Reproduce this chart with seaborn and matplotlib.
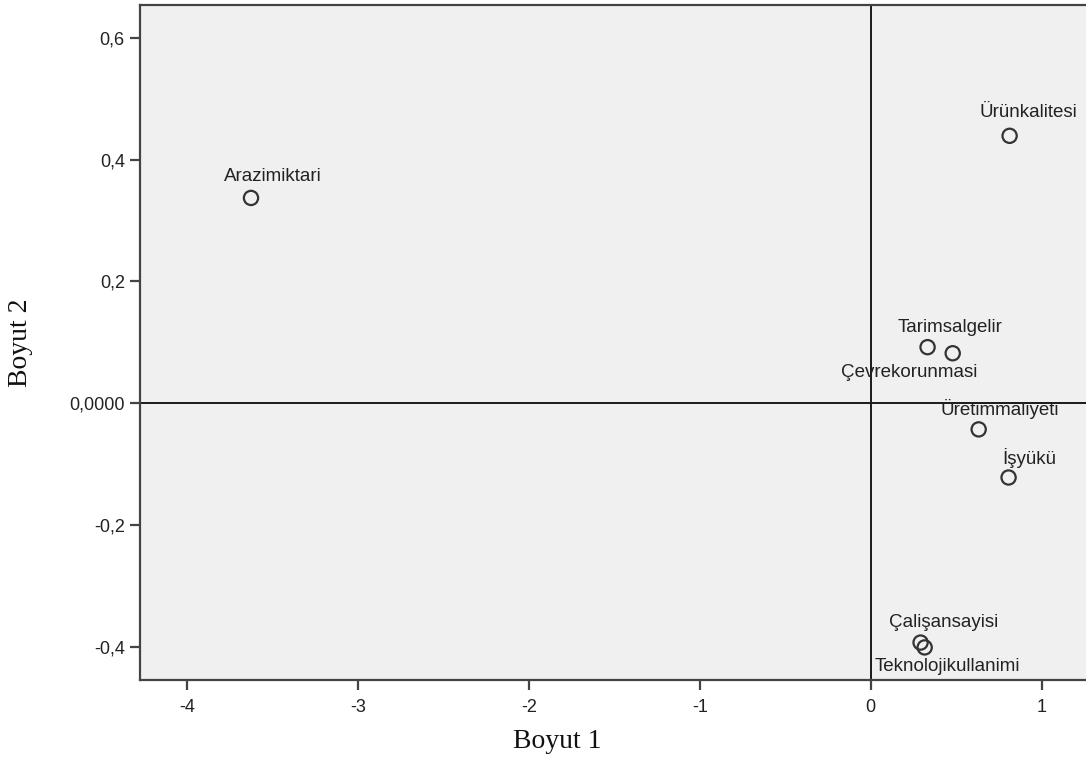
import matplotlib
matplotlib.use("Agg")
import matplotlib.pyplot as plt
import seaborn as sns
import pandas as pd

# Coordinates of each variable on the two dimensions
names = ["Arazimiktari", "Ürünkalitesi", "Tarimsalgelir", "Çevrekorunmasi",
         "Üretimmaliyeti", "İşyükü", "Çalişansayisi", "Teknolojikullanimi"]
dim1 = [-3.626, 0.813, 0.333, 0.480, 0.632, 0.807, 0.292, 0.316]
dim2 = [0.337, 0.439, 0.092, 0.082, -0.043, -0.122, -0.393, -0.401]

# Label placement relative to each point (pixels)
label_dx = [22, 19, 22, -44, 21, 21, 23, 23]
label_dy = [21, 23, 20, -19, 20, 19, 20, -19]

x_ticks = [-4, -3, -2, -1, 0, 1]
x_tick_labels = ["-4", "-3", "-2", "-1", "0", "1"]
y_ticks = [0.6, 0.4, 0.2, 0.0, -0.2, -0.4]
y_tick_labels = ["0,6", "0,4", "0,2", "0,0000", "-0,2", "-0,4"]

df = pd.DataFrame({"Boyut 1": dim1, "Boyut 2": dim2, "name": names})

sns.set_style("white")
plt.rcParams["font.family"] = ["Liberation Sans", "DejaVu Sans"]

fig = plt.figure(figsize=(10.86, 7.62), dpi=100)
ax = fig.add_axes([0.129, 0.108, 0.871, 0.8856])
ax.set_facecolor("#f0f0f0")

ax.axhline(0, color="#1a1a1a", lw=1.4, zorder=1)
ax.axvline(0, color="#1a1a1a", lw=1.4, zorder=1)

sns.scatterplot(data=df, x="Boyut 1", y="Boyut 2", ax=ax, s=105,
                facecolor="none", edgecolor="#333333", linewidth=1.6,
                marker="o", zorder=3)

for n, x, y, dx, dy in zip(names, dim1, dim2, label_dx, label_dy):
    ax.annotate(n, (x, y), xytext=(dx, dy), textcoords="offset pixels",
                ha="center", va="center", fontsize=13.5, color="#222222",
                zorder=4)

ax.set_xlim(-4.275, 1.26)
ax.set_ylim(-0.454, 0.654)
ax.set_xticks(x_ticks)
ax.set_xticklabels(x_tick_labels)
ax.set_yticks(y_ticks)
ax.set_yticklabels(y_tick_labels)

for side in ["left", "bottom", "top"]:
    ax.spines[side].set_color("#444444")
    ax.spines[side].set_linewidth(1.6)
ax.spines["right"].set_visible(False)

ax.tick_params(axis="both", direction="out", length=7, width=1.6,
               color="#444444", labelsize=13, labelcolor="#222222",
               left=True, bottom=True, pad=4)
ax.tick_params(axis="x", pad=7)

ax.set_xlabel("Boyut 1", family="Liberation Serif", fontsize=20,
              color="#111111")
ax.set_ylabel("Boyut 2", family="Liberation Serif", fontsize=20,
              color="#111111")
ax.xaxis.set_label_coords(0.441, -0.092)
ax.xaxis.label.set_va("center")
ax.yaxis.set_label_coords(-0.126, 0.5)
ax.yaxis.label.set_va("center")

fig.savefig("out.png", dpi=100, facecolor="white")
